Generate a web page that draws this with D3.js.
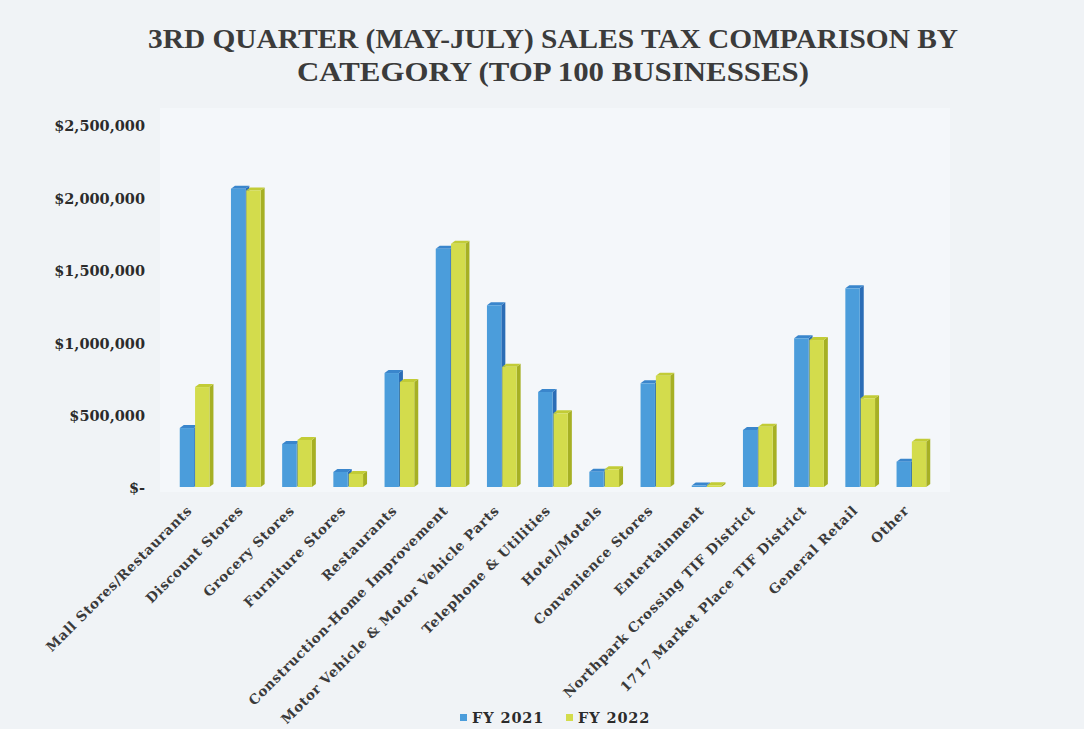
<!DOCTYPE html>
<html>
<head>
<meta charset="utf-8">
<script src="https://cdn.jsdelivr.net/npm/d3@7"></script>
<style>
  html, body { margin: 0; padding: 0; background: #f0f3f6; }
  svg { display: block; }
</style>
</head>
<body>
<svg id="chart" width="1084" height="729"></svg>
<script>
const categories = [
  "Mall Stores/Restaurants", "Discount Stores", "Grocery Stores", "Furniture Stores",
  "Restaurants", "Construction-Home Improvement", "Motor Vehicle & Motor Vehicle Parts",
  "Telephone & Utilities", "Hotel/Motels", "Convenience Stores", "Entertainment",
  "Northpark Crossing TIF District", "1717 Market Place TIF District", "General Retail", "Other"
];
const seriesNames = ["FY 2021", "FY 2022"];
const fy2021 = [407000, 2060000, 297000, 104000, 787000, 1645000, 1255000, 656000, 105000, 716000, 10000, 394000, 1027000, 1372000, 175000];
const fy2022 = [690000, 2048000, 325000, 90000, 725000, 1680000, 830000, 509000, 122000, 768000, 12000, 416000, 1015000, 613000, 313000];
const yTicks = [0, 500000, 1000000, 1500000, 2000000, 2500000];
const titleLines = ["3RD QUARTER (MAY-JULY) SALES TAX COMPARISON BY", "CATEGORY (TOP 100 BUSINESSES)"];

const colors = {
  "FY 2021": { front: "#4b9ddb", side: "#2b6db6", top: "#3a86cc" },
  "FY 2022": { front: "#d3dc4c", side: "#a6b024", top: "#c2cc36" }
};

const svg = d3.select("#chart");
const W = 1084, H = 729;
svg.append("rect").attr("width", W).attr("height", H).attr("fill", "#f0f3f6");

// plot area
const plot = { left: 169, right: 937, top: 125, bottom: 487 };
svg.append("rect")
  .attr("x", 160).attr("y", 108).attr("width", 790).attr("height", 384)
  .attr("fill", "#f4f7fa");

const x0 = d3.scaleBand().domain(categories).range([plot.left, plot.right])
  .paddingInner(0.42).paddingOuter(0.21);
const x1 = d3.scaleBand().domain(seriesNames).range([0, x0.bandwidth()]).paddingInner(0.06);
const y = d3.scaleLinear().domain([0, 2500000]).range([plot.bottom, plot.top]);

// title
const title = svg.append("g");
const tl = [ {t: titleLines[0], y: 48, len: 810}, {t: titleLines[1], y: 81, len: 512} ];
tl.forEach(d => {
  title.append("text")
    .attr("x", 553).attr("y", d.y)
    .attr("text-anchor", "middle")
    .attr("font-family", "'Liberation Serif', serif")
    .attr("font-weight", "bold")
    .attr("font-size", 27)
    .attr("fill", "#3b3b3b")
    .attr("textLength", d.len)
    .attr("lengthAdjust", "spacingAndGlyphs")
    .text(d.t);
});

// y axis
const fmt = v => v === 0 ? "$-" : "$" + d3.format(",")(v);
const yAxis = svg.append("g")
  .attr("transform", `translate(${plot.left - 24},0)`)
  .call(d3.axisLeft(y).tickValues(yTicks).tickFormat(fmt).tickSize(0).tickPadding(0));
yAxis.select(".domain").remove();
yAxis.selectAll("text")
  .attr("font-family", "'DejaVu Serif', serif")
  .attr("font-weight", "bold")
  .attr("font-size", 14.5)
  .attr("fill", "#2b2b2b")
  .attr("dy", "0.4em");

// bars (pseudo-3D)
const depthX = 4, depthY = 3;
const data = categories.map((c, i) => ({ cat: c, vals: [
  { s: "FY 2021", v: fy2021[i] }, { s: "FY 2022", v: fy2022[i] } ] }));

const groups = svg.append("g").selectAll("g").data(data).join("g")
  .attr("transform", d => `translate(${x0(d.cat)},0)`);

const bars = groups.selectAll("g.bar").data(d => d.vals).join("g").attr("class", "bar");
bars.each(function(d) {
  const g = d3.select(this);
  const bx = x1(d.s), bw = x1.bandwidth();
  const yt = y(d.v), yb = y(0);
  const c = colors[d.s];
  g.append("path")
    .attr("d", `M${bx + bw},${yt} L${bx + bw + depthX},${yt - depthY} L${bx + bw + depthX},${yb - depthY} L${bx + bw},${yb} Z`)
    .attr("fill", c.side);
  g.append("path")
    .attr("d", `M${bx},${yt} L${bx + depthX},${yt - depthY} L${bx + bw + depthX},${yt - depthY} L${bx + bw},${yt} Z`)
    .attr("fill", c.top);
  g.append("rect")
    .attr("x", bx).attr("y", yt).attr("width", bw).attr("height", Math.max(0.5, yb - yt))
    .attr("fill", c.front);
});

// category labels
const xAxis = svg.append("g")
  .attr("transform", `translate(0,${plot.bottom + 12})`)
  .call(d3.axisBottom(x0).tickSize(0).tickPadding(0));
xAxis.select(".domain").remove();
xAxis.selectAll("text")
  .attr("font-family", "'DejaVu Serif', serif")
  .attr("font-weight", "bold")
  .attr("font-size", 13.5)
  .style("letter-spacing", "0.7px")
  .attr("fill", "#3a3a3a")
  .attr("text-anchor", "end")
  .attr("dy", "0.35em")
  .attr("transform", "translate(-5,9) rotate(-45)");

// legend
const legend = svg.append("g").attr("transform", "translate(0,718)");
const legItems = [ { s: "FY 2021", x: 460 }, { s: "FY 2022", x: 566 } ];
legItems.forEach(d => {
  legend.append("rect").attr("x", d.x).attr("y", -4).attr("width", 7).attr("height", 7)
    .attr("fill", colors[d.s].front);
  legend.append("text").attr("x", d.x + 12).attr("y", 0).attr("dy", "0.35em")
    .attr("font-family", "'DejaVu Serif', serif").attr("font-weight", "bold").attr("font-size", 14.5)
    .style("letter-spacing", "0.9px")
    .attr("fill", "#2b2b2b").text(d.s);
});
</script>
</body>
</html>
